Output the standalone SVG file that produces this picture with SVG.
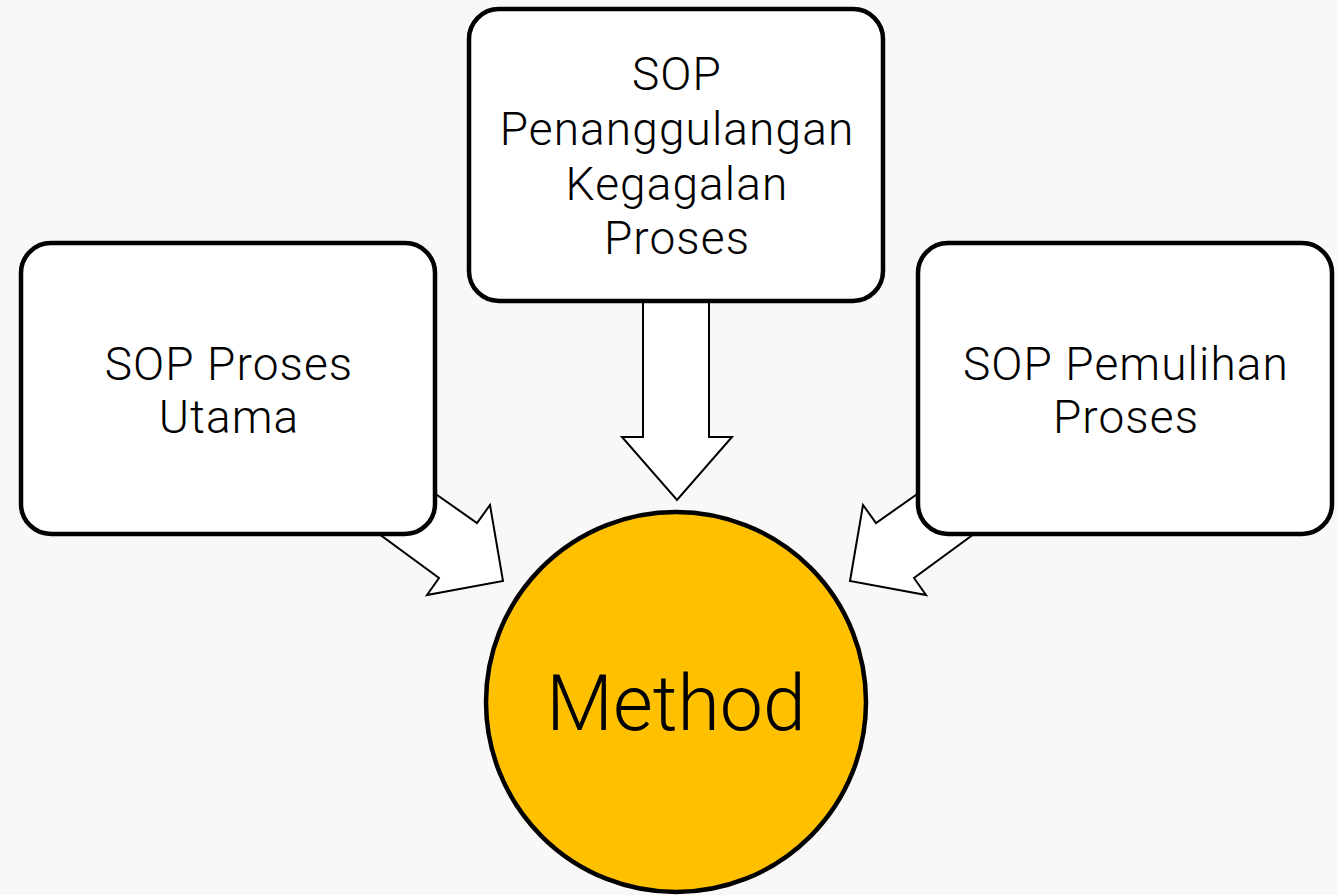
<svg xmlns="http://www.w3.org/2000/svg" width="1337" height="895" viewBox="0 0 1337 895">
<style>
.box{fill:#ffffff;stroke:#000000;stroke-width:4.5}
.arr{fill:#ffffff;stroke:#000000;stroke-width:2;stroke-linejoin:miter}
.t{font-family:Roboto,"Liberation Sans",sans-serif;font-size:46px;font-weight:300;letter-spacing:1.1px;fill:#000000;text-anchor:middle}
.m{font-family:Roboto,"Liberation Sans",sans-serif;font-size:77px;font-weight:300;fill:#000000;text-anchor:middle}
</style>
<rect x="0" y="0" width="1337" height="895" fill="#f9f8f6"/>
<g id="connectors">
<polygon class="arr" points="643,290 709,290 709,437 732,437 677,500 622,437 643,437"/>
<polygon class="arr" points="400,469 477,523 490,505 503,581 427,595 439,578 345,509"/>
<polygon class="arr" points="953,469 876,523 863,505 850,581 926,595 914,578 1008,509"/>
</g>
<g id="node-top">
<rect class="box" x="469" y="9" width="414" height="292" rx="30"/>
<text class="t" x="677" y="90">SOP</text>
<text class="t" x="677" y="145">Penanggulangan</text>
<text class="t" x="677" y="200">Kegagalan</text>
<text class="t" x="677" y="254">Proses</text>
</g>
<g id="node-left">
<rect class="box" x="21" y="243" width="414" height="291" rx="30"/>
<text class="t" x="229" y="380">SOP Proses</text>
<text class="t" x="229" y="433">Utama</text>
</g>
<g id="node-right">
<rect class="box" x="918" y="243" width="414" height="291" rx="30"/>
<text class="t" x="1126" y="380">SOP Pemulihan</text>
<text class="t" x="1126" y="433">Proses</text>
</g>
<g id="node-method">
<circle cx="676" cy="702" r="190" fill="#ffc000" stroke="#000000" stroke-width="4.5"/>
<text class="m" x="676" y="730">Method</text>
</g>
</svg>
